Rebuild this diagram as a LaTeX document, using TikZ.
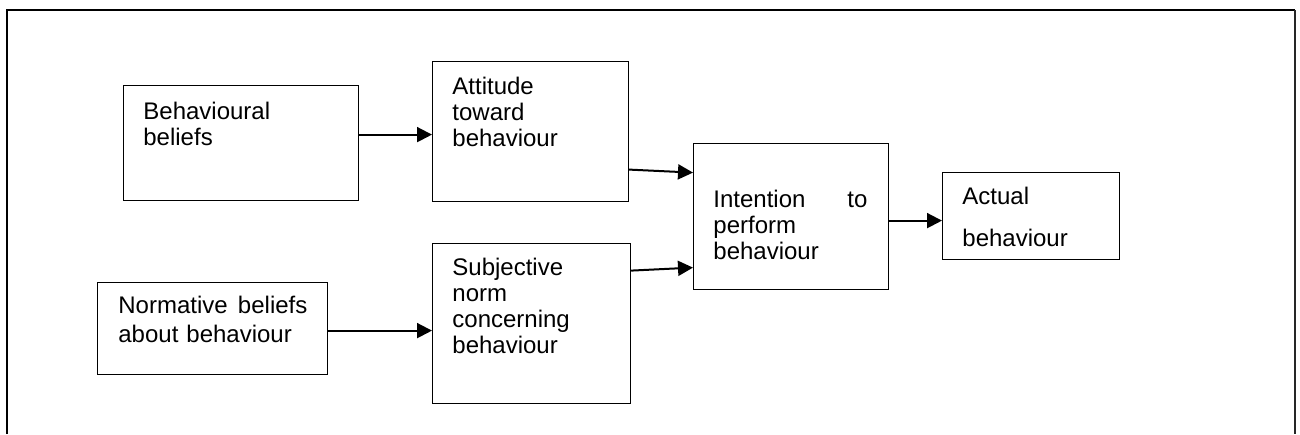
\documentclass[tikz,border=0pt]{standalone}
\usepackage{fontspec}
\setmainfont{Liberation Sans}
\usetikzlibrary{arrows.meta,positioning}
\tikzset{box/.style={draw, rectangle, line width=0.6pt, inner sep=0pt, anchor=north west},
	boxtext/.style={anchor=base west, inner sep=0pt, align=left, font=\fontsize{12}{13}\selectfont},
	flow/.style={line width=1pt, -{Triangle[length=7.5pt,width=7.5pt]}}
}
\begin{document}
\begin{tikzpicture}[x=0.5pt,y=-0.5pt]
				\useasboundingbox (0,0) rectangle (1300,434);
				\draw[line width=0.6pt] (7,434) -- (7,10) -- (1295,10);
				\draw[line width=1.2pt, black!85] (1295,10) -- (1295,434);
				
				\node[box, minimum width=117.5pt, minimum height=57.5pt] (bb) at (123,85) {};
				\node[box, minimum width=98pt, minimum height=70pt] (atb) at (432,61) {};
				\node[box, minimum width=99pt, minimum height=80pt] (snb) at (432,243) {};
				\node[box, minimum width=97.5pt, minimum height=73pt] (itp) at (693,143) {};
				\node[box, minimum width=88.5pt, minimum height=43.5pt] (ab) at (942,172) {};
				\node[box, minimum width=115pt, minimum height=46pt] (nbb) at (97,282) {};
				
				\node[boxtext, text width=100pt] (bbtext) at ([xshift=10pt,yshift=-17pt]bb.north west) {Behavioural\\beliefs};
				\node[boxtext, text width=80pt] (atbtext) at ([xshift=10pt,yshift=-16.5pt]atb.north west) {Attitude\\toward\\behaviour};
				\node[boxtext, text width=80pt] (snbtext) at ([xshift=10pt,yshift=-16pt]snb.north west) {Subjective\\norm\\concerning\\behaviour};
				\node[boxtext, text width=77pt] (itptext) at ([xshift=10pt,yshift=-32pt]itp.north west) {Intention\hfill to\\perform\\behaviour};
				\node[boxtext, text width=70pt] (abtext) at ([xshift=10pt,yshift=-16pt]ab.north west) {Actual\\[8pt]behaviour};
				\node[boxtext, text width=94.5pt] (nbbtext) at ([xshift=10.5pt,yshift=-15.5pt]nbb.north west) {Normative\hfill beliefs\\[1.5pt]about behaviour};
				
				% draw arrows
				\draw[flow] ([yshift=4.25pt]bb.east) -- ([yshift=4.25pt]bb.east -| atb.west);
				\draw[flow] ([yshift=-19pt]atb.east) -- ([yshift=22pt]itp.west);
				\draw[flow] ([yshift=26.5pt]snb.east) -- ([yshift=-25.5pt]itp.west);
				\draw[flow] ([yshift=-2pt]itp.east) -- ([yshift=-2pt]itp.east -| ab.west);
				\draw[flow] ([yshift=-1pt]nbb.east) -- ([yshift=-1pt]nbb.east -| snb.west);
\end{tikzpicture}
\end{document}
